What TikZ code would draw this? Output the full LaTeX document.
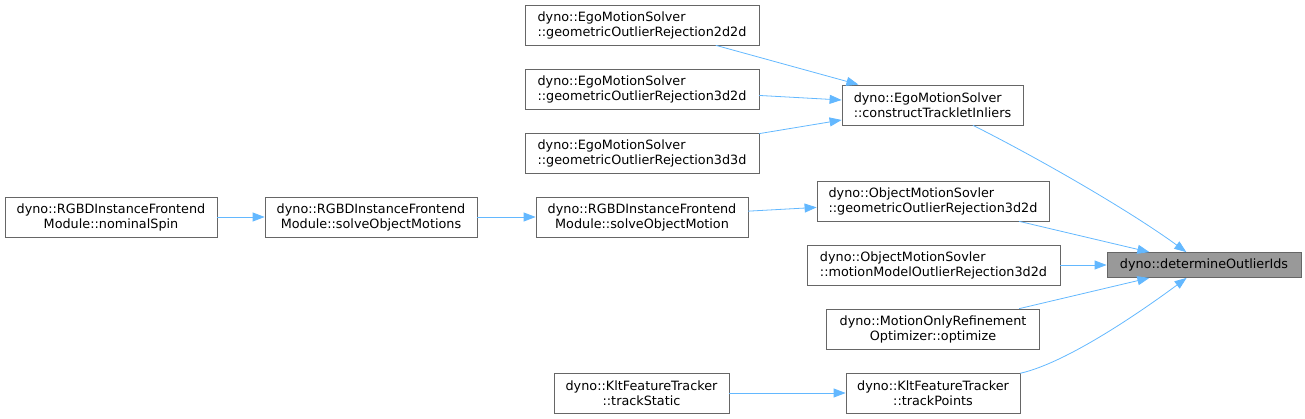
\documentclass[tikz,border=0pt]{standalone}
\usepackage{fontspec}
\setmainfont{DejaVu Sans}
\usetikzlibrary{arrows.meta}
\usepackage{xcolor}
\definecolor{callblue}{HTML}{63B8FF}
\definecolor{boxgray}{HTML}{666666}
\definecolor{selgray}{HTML}{999999}

\begin{document}
\begin{tikzpicture}[x=1pt,y=-1pt,>={Triangle[length=12pt,width=9pt]},
  font=\fontsize{12.8}{15}\selectfont,line cap=round,
  fn/.style={draw=boxgray,fill=white,line width=0.8pt,minimum height=40pt,inner sep=0pt,align=left},
  fnc/.style={fn,align=center},
  call/.style={->,callblue,line width=0.8pt}]
\useasboundingbox (0,0) rectangle (1305,419);
% callers, left to right
\node[fnc,minimum width=212pt] (nominalSpin) at (111,217) {dyno::RGBDInstanceFrontend\\Module::nominalSpin};
\node[fnc,minimum width=212pt] (solveMotions) at (371,217) {dyno::RGBDInstanceFrontend\\Module::solveObjectMotions};
\node[fnc,minimum width=212pt] (solveMotion) at (642,217) {dyno::RGBDInstanceFrontend\\Module::solveObjectMotion};
\node[fn,minimum width=234pt] (egoTwoTwo) at (642,25) {dyno::EgoMotionSolver\\::geometricOutlierRejection2d2d};
\node[fn,minimum width=234pt] (egoThreeTwo) at (642,89) {dyno::EgoMotionSolver\\::geometricOutlierRejection3d2d};
\node[fn,minimum width=234pt] (egoThreeThree) at (642,153) {dyno::EgoMotionSolver\\::geometricOutlierRejection3d3d};
\node[fnc,minimum width=175pt] (trackStatic) at (641.5,393) {dyno::KltFeatureTracker\\::trackStatic};
\node[fn,minimum width=181pt] (construct) at (932.5,105) {dyno::EgoMotionSolver\\::constructTrackletInliers};
\node[fn,minimum width=232pt] (objGeometric) at (933,201) {dyno::ObjectMotionSovler\\::geometricOutlierRejection3d2d};
\node[fn,minimum width=253pt] (objModel) at (933.5,265) {dyno::ObjectMotionSovler\\::motionModelOutlierRejection3d2d};
\node[fnc,minimum width=213pt] (refine) at (933,329) {dyno::MotionOnlyRefinement\\Optimizer::optimize};
\node[fnc,minimum width=174pt] (trackPoints) at (933,393) {dyno::KltFeatureTracker\\::trackPoints};
% the function itself
\node[fn,fill=selgray,minimum width=194pt,minimum height=25pt] (outlierIds) at (1204,265) {dyno::determineOutlierIds};
% calls
\draw[call] (nominalSpin) -- (solveMotions);
\draw[call] (solveMotions) -- (solveMotion);
\draw[call] (solveMotion) -- (objGeometric);
\draw[call] (egoTwoTwo) -- (construct);
\draw[call] (egoThreeTwo) -- (construct);
\draw[call] (egoThreeThree) -- (construct);
\draw[call] (trackStatic) -- (trackPoints);
\draw[call] (construct) .. controls (1040,159) and (1130,211) .. (outlierIds);
\draw[call] (objGeometric) -- (outlierIds);
\draw[call] (objModel) -- (outlierIds);
\draw[call] (refine) -- (outlierIds);
\draw[call] (trackPoints) .. controls (1070,362) and (1150,305) .. (outlierIds);
\end{tikzpicture}
\end{document}
